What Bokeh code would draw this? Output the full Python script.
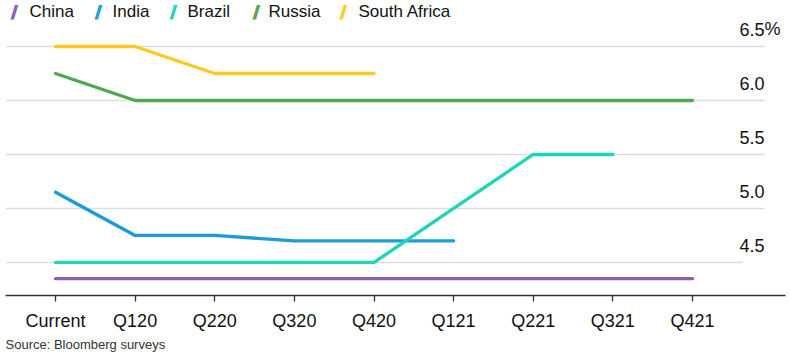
from bokeh.plotting import figure
from bokeh.models import ColumnDataSource, Range1d, FixedTicker, Label, Title
from bokeh.embed import file_html
from bokeh.resources import INLINE

categories = ["Current", "Q120", "Q220", "Q320", "Q420", "Q121", "Q221", "Q321", "Q421"]
china = [4.35, 4.35, 4.35, 4.35, 4.35, 4.35, 4.35, 4.35, 4.35]
india = [5.15, 4.75, 4.75, 4.70, 4.70, 4.70]
brazil = [4.5, 4.5, 4.5, 4.5, 4.5, 5.0, 5.5, 5.5]
russia = [6.25, 6.0, 6.0, 6.0, 6.0, 6.0, 6.0, 6.0, 6.0]
south_africa = [6.5, 6.5, 6.25, 6.25, 6.25]
y_ticks = [4.5, 5.0, 5.5, 6.0, 6.5]
y_tick_labels = ["4.5", "5.0", "5.5", "6.0", "6.5"]

names = ["China", "India", "Brazil", "Russia", "South Africa"]
values = [china, india, brazil, russia, south_africa]
colors = ["#8b5fb6", "#1a9cdc", "#1ed5b5", "#4da94b", "#ffc91f"]

# legend layout (screen positions of each entry's icon and text)
legend_icon_x = [5, 89, 164, 247, 334]
legend_text_x = [24, 107, 182, 263, 353]

FONT = "Liberation Sans"

p = figure(width=790, height=352, output_backend="svg", toolbar_location=None,
           x_range=Range1d(-0.628, 9.168), y_range=Range1d(4.194, 6.926),
           min_border_left=5, min_border_right=5, min_border_top=0, min_border_bottom=0,
           outline_line_color=None, background_fill_color="white", border_fill_color="white")

p.yaxis.visible = False
p.xgrid.visible = False
p.ygrid.visible = False

# gridlines (shorter than frame, as in reference)
grid_end = [8.63, 8.907, 8.907, 8.907, 8.907]
p.segment(x0=[p.x_range.start] * len(y_ticks), x1=grid_end, y0=y_ticks, y1=y_ticks,
          line_color="#dddddd", line_width=1.5)

for name, vals, color in zip(names, values, colors):
    src = ColumnDataSource(dict(x=list(range(len(vals))), y=vals))
    p.line("x", "y", source=src, line_color=color, line_width=3.3, line_cap="round")

# manual legend: slanted stroke icon (drawn twice for weight) + label
for name, color, ix, tx in zip(names, colors, legend_icon_x, legend_text_x):
    for dx in (0, 1.5):
        p.add_layout(Label(x=ix + dx, y=284, x_units="screen", y_units="screen", text="/",
                           text_align="left", text_baseline="middle",
                           text_font="DejaVu Sans", text_font_size="17px",
                           text_font_style="bold", text_color=color))
    p.add_layout(Label(x=tx, y=284, x_units="screen", y_units="screen", text=name,
                       text_align="left", text_baseline="middle", text_font=FONT,
                       text_font_size="17px", text_color="#111111"))

# x axis
ax = p.xaxis[0]
ax.ticker = FixedTicker(ticks=list(range(len(categories))))
ax.major_label_overrides = {i: c for i, c in enumerate(categories)}
ax.axis_line_color = "#333333"
ax.axis_line_width = 1.6
ax.major_tick_line_color = "#333333"
ax.major_tick_line_width = 1.3
ax.major_tick_in = 0
ax.major_tick_out = 6
ax.minor_tick_line_color = None
ax.major_label_standoff = 9
ax.major_label_text_font = FONT
ax.major_label_text_font_size = "18px"
ax.major_label_text_color = "#111111"

# right-side value labels sitting above gridlines
for yv, t in zip(y_ticks, y_tick_labels):
    p.add_layout(Label(x=759, y=yv, x_units="screen", text=t, y_offset=17,
                       text_align="right", text_baseline="alphabetic",
                       text_font=FONT, text_font_size="18px", text_color="#111111"))
p.add_layout(Label(x=759, y=y_ticks[-1], x_units="screen", text="%", y_offset=17,
                   text_align="left", text_baseline="alphabetic",
                   text_font=FONT, text_font_size="18px", text_color="#111111"))

p.add_layout(Title(text="Source: Bloomberg surveys", align="left", text_font=FONT,
                   text_font_size="13px", text_font_style="normal", text_color="#333333",
                   offset=0, standoff=2), "below")

open("out.html", "w").write(file_html(p, INLINE))
